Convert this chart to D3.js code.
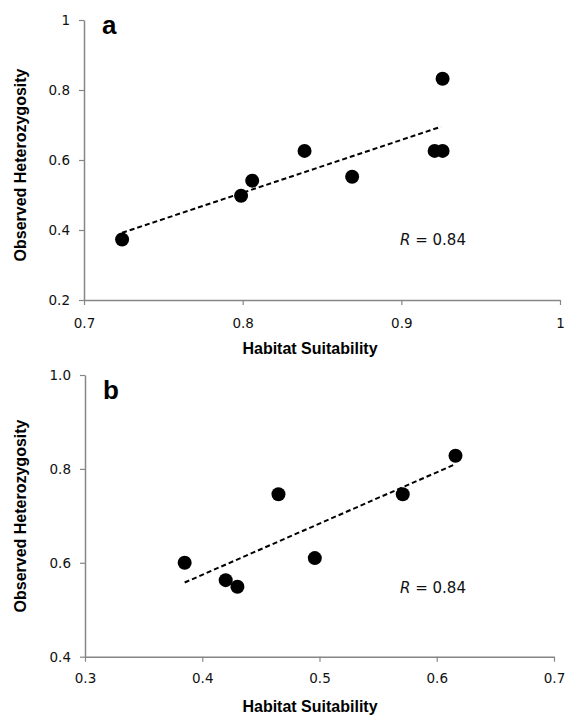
<!DOCTYPE html>
<html>
<head>
<meta charset="utf-8">
<script src="https://cdn.jsdelivr.net/npm/d3@7"></script>
<style>
  body { margin: 0; background: #fff; }
</style>
</head>
<body>
<div id="chart"></div>
<script>
// panel a: habitat suitability vs observed heterozygosity
let aX = [0.724, 0.799, 0.806, 0.839, 0.869, 0.921, 0.926, 0.926]
let aY = [0.373, 0.498, 0.541, 0.626, 0.552, 0.626, 0.626, 0.832]
let aTrendX = [0.724, 0.925]
let aTrendY = [0.392, 0.695]
let aXTicks = [0.7, 0.8, 0.9, 1]
let aYTicks = [0.2, 0.4, 0.6, 0.8, 1]
let aXLabels = ["0.7", "0.8", "0.9", "1"]
let aYLabels = ["0.2", "0.4", "0.6", "0.8", "1"]

// panel b
let bX = [0.385, 0.420, 0.430, 0.465, 0.496, 0.571, 0.616]
let bY = [0.600, 0.563, 0.549, 0.746, 0.610, 0.746, 0.828]
let bTrendX = [0.385, 0.614]
let bTrendY = [0.558, 0.808]
let bXTicks = [0.3, 0.4, 0.5, 0.6, 0.7]
let bYTicks = [0.4, 0.6, 0.8, 1.0]
let bXLabels = ["0.3", "0.4", "0.5", "0.6", "0.7"]
let bYLabels = ["0.4", "0.6", "0.8", "1.0"]

let width = 565
let height = 716

let svg = d3.select("#chart").append("svg")
    .attr("width", width)
    .attr("height", height)

let axisColor = "#868686"
let tickFont = "'DejaVu Sans', sans-serif"
let titleFont = "'Liberation Sans', Arial, sans-serif"

function panel(p) {
    let x = d3.scaleLinear(p.xDomain, p.xRange)
    let y = d3.scaleLinear(p.yDomain, p.yRange)
    let g = svg.append("g")

    // y axis
    let yAxis = g.append("g")
        .attr("transform", `translate(${p.xRange[0]},0)`)
        .call(d3.axisLeft(y).tickValues(p.yTicks).tickSize(5).tickSizeOuter(0)
            .tickFormat((d, i) => p.yLabels[i]))
    yAxis.select(".domain").attr("stroke", axisColor).attr("stroke-width", 1.5)
    yAxis.selectAll(".tick line").attr("stroke", axisColor).attr("stroke-width", 1.2)
    yAxis.selectAll(".tick text")
        .attr("x", -14)
        .attr("fill", "#111")
        .attr("font-family", tickFont)
        .attr("font-size", 13.5)

    // x axis
    let xAxis = g.append("g")
        .attr("transform", `translate(0,${p.yRange[0]})`)
        .call(d3.axisBottom(x).tickValues(p.xTicks).tickSize(5).tickSizeOuter(0)
            .tickFormat((d, i) => p.xLabels[i]))
    xAxis.select(".domain").attr("stroke", axisColor).attr("stroke-width", 1.5)
    xAxis.selectAll(".tick line").attr("stroke", axisColor).attr("stroke-width", 1.2)
    xAxis.selectAll(".tick text")
        .attr("y", 0)
        .attr("dy", p.xLabelOffset)
        .attr("fill", "#111")
        .attr("font-family", tickFont)
        .attr("font-size", 13.5)

    // dashed trend line
    g.append("line")
        .attr("x1", x(p.trendX[0])).attr("y1", y(p.trendY[0]))
        .attr("x2", x(p.trendX[1])).attr("y2", y(p.trendY[1]))
        .attr("stroke", "#000")
        .attr("stroke-width", 2)
        .attr("stroke-dasharray", "5,3")

    // points
    g.selectAll("circle")
        .data(p.xs)
        .join("circle")
        .attr("cx", d => x(d))
        .attr("cy", (d, i) => y(p.ys[i]))
        .attr("r", 7)
        .attr("fill", "#000")

    // panel letter
    g.append("text")
        .attr("x", p.xRange[0] + 18)
        .attr("y", p.yRange[1] + p.letterDy)
        .attr("font-family", titleFont)
        .attr("font-weight", "bold")
        .attr("font-size", 26)
        .text(p.letter)

    // R label
    let r = g.append("text")
        .attr("x", 400)
        .attr("y", p.rY)
        .attr("font-family", tickFont)
        .attr("font-size", 15)
        .attr("fill", "#111")
    r.append("tspan").attr("font-style", "italic").text("R")
    r.append("tspan").text(" = 0.84")

    // axis titles
    g.append("text")
        .attr("x", 310)
        .attr("y", p.xTitleY)
        .attr("text-anchor", "middle")
        .attr("font-family", titleFont)
        .attr("font-weight", "bold")
        .attr("font-size", 16)
        .text("Habitat Suitability")

    g.append("text")
        .attr("transform", `translate(26,${p.yTitleY}) rotate(-90)`)
        .attr("text-anchor", "middle")
        .attr("font-family", titleFont)
        .attr("font-weight", "bold")
        .attr("font-size", 16)
        .text("Observed Heterozygosity")
}

panel({
    xs: aX, ys: aY, trendX: aTrendX, trendY: aTrendY,
    xDomain: [0.7, 1], xRange: [84, 560],
    yDomain: [0.2, 1], yRange: [300, 20],
    xTicks: aXTicks, yTicks: aYTicks, xLabels: aXLabels, yLabels: aYLabels,
    xLabelOffset: 28, letter: "a", letterDy: 14, rY: 245,
    xTitleY: 354, yTitleY: 165
})

panel({
    xs: bX, ys: bY, trendX: bTrendX, trendY: bTrendY,
    xDomain: [0.3, 0.7], xRange: [85, 554],
    yDomain: [0.4, 1.0], yRange: [656.7, 375],
    xTicks: bXTicks, yTicks: bYTicks, xLabels: bXLabels, yLabels: bYLabels,
    xLabelOffset: 26, letter: "b", letterDy: 24, rY: 593,
    xTitleY: 712, yTitleY: 516
})
</script>
</body>
</html>
